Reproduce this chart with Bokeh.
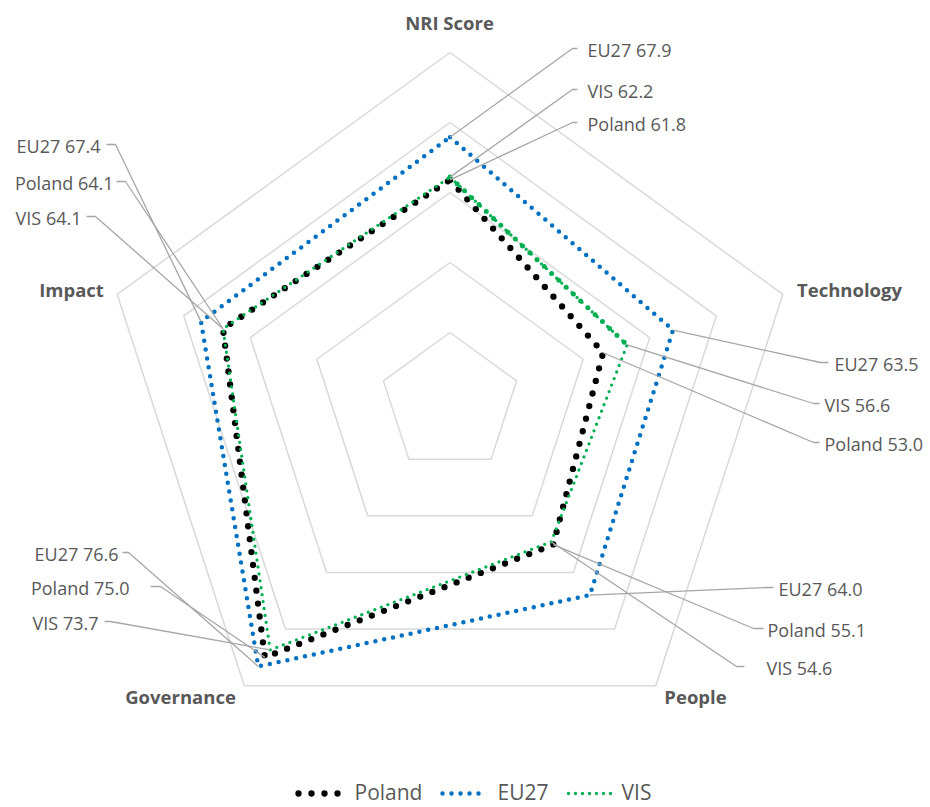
import math
from bokeh.plotting import figure
from bokeh.models import Range1d
from bokeh.core.properties import value
from bokeh.embed import file_html
from bokeh.resources import INLINE

# ---------------- data ----------------
categories = ["NRI Score", "Technology", "People", "Governance", "Impact"]
series_names = ["Poland", "EU27", "VIS"]
poland = [61.8, 53.0, 55.1, 75.0, 64.1]
eu27 = [67.9, 63.5, 64.0, 76.6, 67.4]
vis = [62.2, 56.6, 54.6, 73.7, 64.1]
r_min, r_max, r_step = 30, 80, 10

# ---------------- layout / style ----------------
W, H = 930, 807
CX, CY = 449.5, 402.0
PX_PER_UNIT = 7.0
FONT = "Open Sans"
TXT = "#595959"
GRID = "#D9D9D9"
LEADER = "#A6A6A6"

styles = {
    "Poland": dict(color="#000000", width=6.3, dash="0 13"),
    "EU27": dict(color="#0070C0", width=4.5, dash="0 9"),
    "VIS": dict(color="#00B050", width=3.3, dash="0 7"),
}

cat_label_pos = [(449, 22), (849, 289), (695, 696), (180, 696), (71, 289)]

# label placement per category: series -> (text_x, text_y, align, end_x, elbow_x)
label_layout = {
    0: {"EU27": (587, 49, "left", 577, 572),
        "VIS": (587, 90, "left", 577, 572),
        "Poland": (587, 123, "left", 577, 572)},
    1: {"EU27": (834, 363, "left", 828, 820),
        "VIS": (824, 404, "left", 819, 813),
        "Poland": (824, 443, "left", 819, 813)},
    2: {"EU27": (778, 588, "left", 773, 767),
        "Poland": (767, 629, "left", 763, 753),
        "VIS": (766, 667, "left", 744, 736)},
    3: {"EU27": (118, 553, "right", 122, 128),
        "Poland": (129, 587, "right", 150, 160),
        "VIS": (98, 622, "right", 104, 110)},
    4: {"EU27": (100, 145, "right", 106, 115),
        "Poland": (113, 182, "right", 116, 125),
        "VIS": (81, 217, "right", 86, 95)},
}

legend_layout = {
    "Poland": (298, 338, 354),
    "EU27": (442, 487, 497),
    "VIS": (568, 611, 621),
}
LEGEND_Y = 793
LEGEND_TEXT_Y = 791


def pt(v, i):
    ang = math.radians(72 * i)
    r = (v - r_min) * PX_PER_UNIT
    return CX + r * math.sin(ang), CY - r * math.cos(ang)


p = figure(width=W, height=H, x_range=Range1d(0, W), y_range=Range1d(H, 0),
           output_backend="svg", toolbar_location=None, min_border=0,
           x_axis_type=None, y_axis_type=None)
p.grid.visible = False
p.outline_line_color = None
p.background_fill_color = "white"
p.border_fill_color = "white"

# grid pentagons
n = len(categories)
for lvl in range(r_min + r_step, r_max + 1, r_step):
    xs = [pt(lvl, i)[0] for i in range(n)] + [pt(lvl, 0)[0]]
    ys = [pt(lvl, i)[1] for i in range(n)] + [pt(lvl, 0)[1]]
    p.line(xs, ys, line_color=GRID, line_width=1.5)

# series
data = {"Poland": poland, "EU27": eu27, "VIS": vis}
for name in series_names:
    vals = data[name]
    st = styles[name]
    xs = [pt(vals[i], i)[0] for i in range(n)] + [pt(vals[0], 0)[0]]
    ys = [pt(vals[i], i)[1] for i in range(n)] + [pt(vals[0], 0)[1]]
    p.line(xs, ys, line_color=st["color"], line_width=st["width"],
           line_dash=st["dash"], line_cap="round", line_join="round")

# VIS segment NRI -> Technology appears heavier in the reference
seg_x = [pt(vis[0], 0)[0], pt(vis[1], 1)[0]]
seg_y = [pt(vis[0], 0)[1], pt(vis[1], 1)[1]]
p.line(seg_x, seg_y, line_color="#00B050", line_width=5, line_dash="0 10",
       line_cap="round")

# category labels
p.text([c[0] for c in cat_label_pos], [c[1] for c in cat_label_pos], text=categories,
       text_font=value(FONT), text_font_style="bold", text_font_size="18.5px",
       text_color=TXT, text_align="center", text_baseline="middle")

# data labels with leader lines
for i in range(n):
    for name, (tx, ty, align, ex, bx) in label_layout[i].items():
        v = data[name][i]
        px, py = pt(v, i)
        ly = ty - 1
        p.line([px, bx, ex], [py, ly, ly], line_color=LEADER, line_width=1.3)
        p.text([tx], [ty], text=[f"{name} {v:.1f}"], text_font=value(FONT),
               text_font_size="18px", text_color=TXT, text_align=align,
               text_baseline="middle")

# legend
for name in series_names:
    x0, x1, tx = legend_layout[name]
    st = styles[name]
    p.line([x0, x1], [LEGEND_Y, LEGEND_Y], line_color=st["color"], line_width=st["width"],
           line_dash=st["dash"], line_cap="round")
    p.text([tx], [LEGEND_TEXT_Y], text=[name], text_font=value(FONT), text_font_size="21px",
           text_color=TXT, text_align="left", text_baseline="middle")

open("out.html", "w").write(file_html(p, INLINE))
